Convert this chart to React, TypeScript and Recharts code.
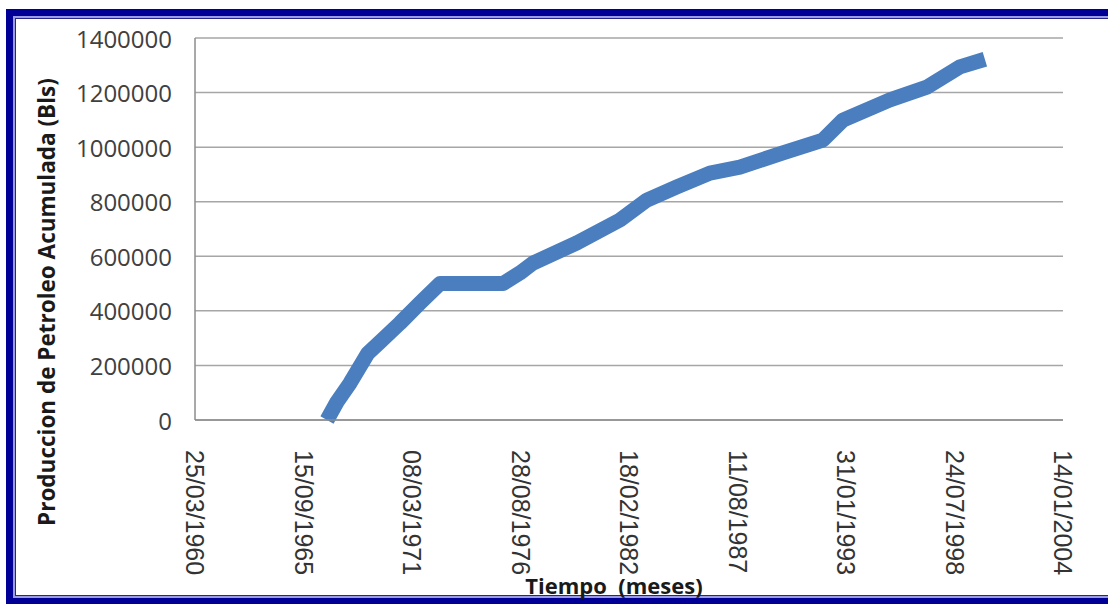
import React from 'react';
import { LineChart, Line, XAxis, YAxis, CartesianGrid } from 'recharts';

// Fechas como número de serie de Excel (días), producción acumulada en barriles
const fechas = [
  24433, 24617, 24857, 25188, 25410, 25778, 26147, 26515, 27676, 27990, 28229, 29040,
  29833, 30330, 30883, 31491, 32044, 32837, 33574, 33943, 34809, 35491, 36099, 36560,
];
const produccion = [
  0, 66000, 135000, 245000, 286000, 355000, 429000, 500000, 500000, 539000, 575000, 649000,
  733000, 806000, 854000, 905000, 927000, 979000, 1026000, 1099000, 1173000, 1220000, 1294000, 1322000,
];

const xTicks = [22000, 24000, 26000, 28000, 30000, 32000, 34000, 36000, 38000];
const xTickLabels = [
  '25/03/1960', '15/09/1965', '08/03/1971', '28/08/1976', '18/02/1982',
  '11/08/1987', '31/01/1993', '24/07/1998', '14/01/2004',
];
const yTicks = [0, 200000, 400000, 600000, 800000, 1000000, 1200000, 1400000];

const data = fechas.map((d, i) => ({ date: d, value: produccion[i] }));

const XTick = (props: any) => {
  const { x, y, payload } = props;
  const idx = xTicks.indexOf(payload.value);
  return (
    <text
      x={x}
      y={y + 22}
      transform={`rotate(90, ${x}, ${y + 22})`}
      textAnchor="start"
      dominantBaseline="central"
      fontFamily="'Liberation Sans', Arial, sans-serif"
      fontSize={25}
      fill="#333"
    >
      {xTickLabels[idx]}
    </text>
  );
};

const YTick = (props: any) => {
  const { y, payload } = props;
  return (
    <text
      x={172}
      y={y}
      textAnchor="end"
      dominantBaseline="central"
      fontFamily="'Open Sans', sans-serif"
      fontSize={24}
      fill="#404040"
    >
      {payload.value}
    </text>
  );
};

export default function App() {
  return (
    <div style={{ position: 'absolute', left: 0, top: 0, width: 1108, height: 604, background: '#fff', overflow: 'hidden' }}>
      {/* marco azul del gráfico */}
      <div
        style={{
          position: 'absolute',
          left: 6,
          top: 9,
          width: 1120,
          height: 582,
          border: '7px solid #000096',
          boxShadow: 'inset 0 0 0 2px #9c9ce2, inset 0 0 0 3px #24248e',
        }}
      />
      <div style={{ position: 'absolute', left: 0, top: 0 }}>
        <LineChart width={1108} height={604} data={data} margin={{ top: 38, right: 45, left: 0, bottom: 34 }}>
          <CartesianGrid vertical={false} stroke="#a6a6a6" strokeWidth={1.5} />
          <XAxis
            dataKey="date"
            type="number"
            domain={[22000, 38000]}
            ticks={xTicks}
            height={150}
            tick={<XTick />}
            tickLine={false}
            axisLine={{ stroke: '#8c8c8c', strokeWidth: 1.5 }}
            interval={0}
          />
          <YAxis
            domain={[0, 1400000]}
            ticks={yTicks}
            width={195}
            tick={<YTick />}
            tickLine={false}
            axisLine={{ stroke: '#8c8c8c', strokeWidth: 1.5 }}
            interval={0}
          />
          <Line
            type="linear"
            dataKey="value"
            stroke="#4a7ebe"
            strokeWidth={15}
            strokeLinejoin="round"
            dot={false}
            isAnimationActive={false}
          />
        </LineChart>
      </div>
      <div
        style={{
          position: 'absolute',
          left: 46,
          top: 302,
          transform: 'translate(-50%, -50%) rotate(-90deg)',
          whiteSpace: 'nowrap',
          fontFamily: "'Open Sans', sans-serif",
          fontWeight: 700,
          fontSize: 22.5,
          color: '#1a1a1a',
        }}
      >
        Produccion de Petroleo Acumulada (Bls)
      </div>
      <div
        style={{
          position: 'absolute',
          left: 614,
          top: 585,
          transform: 'translate(-50%, -50%)',
          whiteSpace: 'pre',
          fontFamily: "'Open Sans', sans-serif",
          fontWeight: 700,
          fontSize: 22,
          color: '#1a1a1a',
        }}
      >
        Tiempo  (meses)
      </div>
    </div>
  );
}
